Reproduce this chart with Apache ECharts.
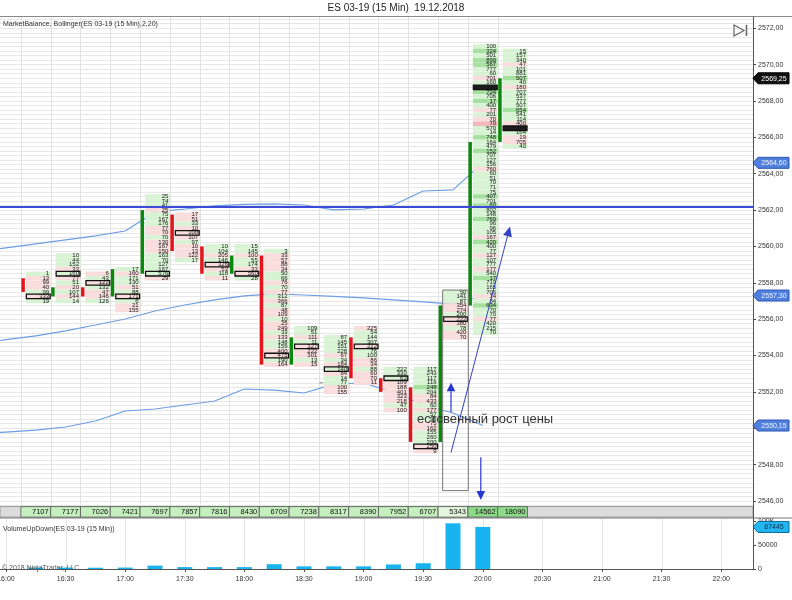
<!DOCTYPE html>
<html>
<head>
<meta charset="utf-8">
<title>ES 03-19 (15 Min) 19.12.2018</title>
<script src="https://cdn.jsdelivr.net/npm/echarts@6/dist/echarts.min.js"></script>
<style>
  html, body { margin: 0; padding: 0; background: #fff; }
  #chart { width: 792px; height: 600px; }
</style>
</head>
<body>
<div id="chart"></div>
<script>
// ---- data ----
const barTimes = ['16:15','16:30','16:45','17:00','17:15','17:30','17:45','18:00','18:15','18:30','18:45','19:00','19:15','19:30','19:45','20:00','20:15'];
const barOpen  = [2558.25, 2557.25, 2557.75, 2557.25, 2558.5, 2561.75, 2560, 2558.5, 2559.5, 2553.5, 2552.5, 2555, 2552.75, 2552.25, 2549.25, 2556.75, 2565.75];
const barClose = [2557.5, 2557.75, 2557.25, 2558.75, 2562, 2559.75, 2558.5, 2559.5, 2553.5, 2555, 2552.5, 2552.75, 2552, 2549.25, 2556.75, 2565.75, 2569.25];
// price of the top footprint row, and the boxed (POC) row
const barHigh  = [2558.5, 2559.5, 2558.5, 2558.75, 2562.75, 2561.75, 2560, 2560, 2559.75, 2555.5, 2555, 2555.5, 2553.25, 2553.25, 2557.5, 2571, 2570.75];
const barPoc   = [2557.25, 2558.5, 2558, 2557.25, 2558.5, 2560.75, 2559, 2558.5, 2554, 2554.5, 2553.25, 2554.5, 2552.75, 2549, 2556, 2568.75, 2566.5];
// footprint volumes, top row first
const barVolumes = [
  [1, 13, 99, 40, 99, 333, 19],
  [10, 44, 152, 33, 160, 77, 51, 20, 107, 144, 14],
  [6, 43, 122, 132, 47, 146, 126],
  [17, 160, 171, 130, 51, 88, 171, 6, 21, 155],
  [25, 74, 41, 25, 75, 167, 176, 77, 70, 70, 130, 167, 150, 163, 70, 127, 167, 576, 29],
  [17, 51, 33, 10, 100, 107, 97, 10, 13, 122, 17],
  [10, 104, 205, 146, 326, 53, 118, 11],
  [15, 145, 100, 55, 174, 33, 560, 28],
  [3, 33, 57, 88, 34, 50, 66, 76, 70, 77, 312, 366, 87, 48, 109, 10, 25, 249, 33, 133, 148, 159, 400, 475, 190, 164],
  [109, 51, 111, 11, 327, 222, 301, 13, 15],
  [87, 145, 151, 228, 67, 34, 184, 140, 84, 14, 77, 100, 155],
  [225, 54, 144, 307, 222, 76, 100, 86, 34, 88, 60, 70, 11],
  [222, 330, 63, 109, 188, 401, 323, 218, 47, 100],
  [117, 243, 117, 116, 248, 204, 84, 433, 60, 177, 57, 96, 75, 162, 155, 260, 200, 250, 9],
  [50, 141, 87, 354, 274, 200, 222, 380, 78, 420, 70],
  [100, 324, 501, 899, 567, 777, 60, 701, 160, 640, 724, 706, 17, 400, 77, 201, 70, 70, 570, 14,
   748, 164, 479, 152, 707, 127, 156, 760, 60, 51, 70, 71, 75, 407, 701, 60, 802, 148, 769, 96,
   96, 105, 167, 420, 400, 77, 127, 107, 777, 177, 540, 17, 719, 165, 706, 14, 84, 634, 70, 70,
   77, 420, 215, 70],
  [15, 157, 340, 47, 101, 881, 507, 40, 180, 707, 537, 777, 507, 654, 541, 114, 400, 222, 164, 19, 705, 40]
];
// cell shading per row: g = buy side, r = sell side, capitals = stronger
const barTones = [
  'grrrgrg', 'gggrgrgrgrg', 'rgrgrrg', 'grggrgrgrr', 'gggrgggrrgrrrgggggr', 'rrgrrrgrrrg',
  'ggrgrrgr', 'ggrggrrg', 'grrrrggrgrgrgrrgrrgrggrrgr', 'ggrgrrrgr', 'ggggrgrgrggrr',
  'rgggrggrrgrrr', 'gggrrrrrgr', 'ggggGgrrgrggrrgggrr', 'gggrrgrrgrr',
  'gGgGGggrggGgGgrgrRggGggGgggrgggggGgGggGgggrGggrggrgGgggrgGggrgg',
  'gggrggGgrggggGggrrgrrg'
];
const barTotals = [7107, 7177, 7026, 7421, 7697, 7857, 7816, 8430, 6709, 7238, 8317, 8390, 7952, 6707, 5343, 14562, 18090];
const volumeUpDown = [3000, 3000, 2700, 3000, 7000, 4000, 4000, 4000, 10000, 5500, 5500, 5500, 9500, 12000, 95000, 87445, 0];

// Bollinger(2,20)
const bandTimes  = ['15:45','16:00','16:15','16:30','16:45','17:00','17:15','17:30','17:45','18:00','18:15','18:30','18:45','19:00','19:15','19:30','19:45','20:00'];
const bandUpper  = [2559.70, 2559.92, 2560.14, 2560.36, 2560.58, 2560.85, 2561.90, 2562.06, 2562.23, 2562.31, 2562.34, 2562.28, 2562.01, 2562.06, 2562.28, 2563.05, 2563.11, 2564.60];
const bandMiddle = [2554.65, 2554.87, 2555.08, 2555.36, 2555.68, 2556.01, 2556.45, 2556.78, 2557.06, 2557.28, 2557.39, 2557.33, 2557.25, 2557.17, 2557.06, 2556.95, 2556.83, 2557.30];
const bandLower  = [2549.68, 2549.79, 2549.90, 2550.07, 2550.40, 2550.95, 2551.06, 2551.28, 2551.50, 2552.16, 2552.10, 2551.94, 2552.43, 2552.49, 2551.99, 2551.28, 2550.84, 2550.15];

const timeLabels  = ['16:00','16:30','17:00','17:30','18:00','18:30','19:00','19:30','20:00','20:30','21:00','21:30','22:00'];
const priceLabels = [2546, 2548, 2550, 2552, 2554, 2556, 2558, 2560, 2562, 2564, 2566, 2568, 2570, 2572];
const volumeLabels = [0, 50000, 100000];
const levelLine = 2562.2;
const lastPrice = 2569.25;

// hand drawings on the chart, as [time, price]
const upArrow    = [['19:44', 2550.9], ['19:44', 2552.5]];
const downArrow  = [['19:59', 2548.4], ['19:59', 2546.05]];
const trendArrow = [['19:44', 2548.66], ['20:13.7', 2561.1]];
const noteBox    = [['19:39.8', 2557.6], ['19:52.7', 2546.57]];
const noteAt     = ['19:26.9', 2550.5];
const noteText   = 'естсвенный рост цены';

// ---- helpers ----
const FONT = '"Liberation Sans", Arial, sans-serif';
const toMin = s => { const [h, m] = s.split(':'); return (+h - 16) * 60 + parseFloat(m); };
const fmtPrice = v => v.toFixed(2).replace('.', ',');
const barMin = barTimes.map(toMin);
const toneColor = { g: '#d8f3d4', G: '#a6e0a0', r: '#f9dcdc', R: '#f0b8b8' };

function renderSlotLines(params, api) {
  const cs = params.coordSys;
  return {
    type: 'group',
    children: barMin.map(t => {
      const x = Math.round(api.coord([t - 7.5, barHigh[0]])[0]) + 0.5;
      return { type: 'line', shape: { x1: x, y1: cs.y - 3, x2: x, y2: cs.y + cs.height },
               style: { stroke: '#e2e2e2', lineWidth: 1 } };
    })
  };
}

function renderTimeLines(params, api) {
  const cs = params.coordSys;
  return {
    type: 'group',
    children: timeLabels.map(s => {
      const x = Math.round(api.coord([toMin(s), 0])[0]) + 0.5;
      return { type: 'line', shape: { x1: x, y1: cs.y, x2: x, y2: cs.y + cs.height },
               style: { stroke: '#e6e6e6', lineWidth: 1 } };
    })
  };
}

function renderFootprint(params, api) {
  const i = api.value(1);
  const t = barMin[i];
  const left = api.coord([t - 7.5, barHigh[i]])[0];
  const right = api.coord([t + 7.5, barHigh[i]])[0];
  const rowH = api.size([0, 0.25])[1];
  const tones = barTones[i];
  const kids = [];
  barVolumes[i].forEach((v, k) => {
    const y = api.coord([t, barHigh[i] - k * 0.25])[1];
    kids.push({ type: 'rect', shape: { x: left + 5, y: y - rowH / 2, width: right - left - 5, height: rowH },
                style: { fill: toneColor[tones[k]] || toneColor.g } });
    kids.push({ type: 'text', style: { text: String(v), x: right - 1.5, y: y, align: 'right', verticalAlign: 'middle',
                fontSize: 6, fontFamily: FONT, fill: '#1a1a1a' } });
  });
  const yp = api.coord([t, barPoc[i]])[1];
  const dark = i >= 15;
  kids.push({ type: 'rect', shape: { x: left + 5.5, y: yp - rowH / 2, width: right - left - 6, height: rowH },
              style: { fill: dark ? '#1c1c1c' : 'rgba(0,0,0,0)', stroke: '#111', lineWidth: 1.3 } });
  const yo = api.coord([t, barOpen[i]])[1];
  const yc = api.coord([t, barClose[i]])[1];
  if (barOpen[i] === barClose[i]) {
    kids.push({ type: 'rect', shape: { x: left + 0.5, y: yo - 0.5, width: 3.5, height: 1 }, style: { fill: '#777' } });
  } else {
    kids.push({ type: 'rect', shape: { x: left + 0.5, y: Math.min(yo, yc), width: 3.5, height: Math.abs(yo - yc) },
                style: { fill: barClose[i] > barOpen[i] ? '#0d870d' : '#e5141b' } });
  }
  return { type: 'group', children: kids };
}

function renderStrip(params, api) {
  const i = api.value(1);
  const t = barMin[i];
  const cs = params.coordSys;
  const bottom = cs.y + cs.height + 2.5;
  const top = bottom - 10.5;
  const left = api.coord([t - 7.5, barHigh[i]])[0];
  const right = api.coord([t + 7.5, barHigh[i]])[0];
  const v = barTotals[i];
  const fill = v > 10000 ? '#8fd98a' : (v < 6000 ? '#e3f7df' : '#c6efbf');
  const kids = [];
  if (i === 0) {
    kids.push({ type: 'rect', z2: -1, shape: { x: cs.x, y: top, width: cs.width, height: bottom - top },
                style: { fill: '#dcdcdc', stroke: '#9a9a9a', lineWidth: 1 } });
  }
  kids.push({ type: 'rect', shape: { x: left, y: top, width: right - left, height: bottom - top },
              style: { fill: fill, stroke: '#555', lineWidth: 0.8 } });
  kids.push({ type: 'text', style: { text: String(v), x: right - 2, y: (top + bottom) / 2 + 0.5, align: 'right',
              verticalAlign: 'middle', fontSize: 7.5, fontFamily: FONT, fill: '#111' } });
  return { type: 'group', children: kids };
}

const bandSeries = (name, vals) => ({
  name, type: 'line', xAxisIndex: 0, yAxisIndex: 0, z: 2,
  data: bandTimes.map((s, k) => [toMin(s), vals[k]]),
  showSymbol: false, symbol: 'none', silent: true,
  lineStyle: { color: '#6d9de2', width: 1.2 }
});

const option = {
  animation: false,
  backgroundColor: '#fff',
  textStyle: { fontFamily: FONT },
  grid: [
    { left: 0, right: 39, top: 19.2, bottom: 85.4, containLabel: false, outerBoundsMode: 'none' },
    { left: 0, right: 39, top: 518.5, bottom: 31, containLabel: false, outerBoundsMode: 'none' }
  ],
  xAxis: [
    { type: 'value', gridIndex: 0, min: -3, max: 376, show: false },
    { type: 'value', gridIndex: 1, min: -3, max: 376,
      axisLine: { show: true, onZero: false, lineStyle: { color: '#555' } },
      axisTick: { show: true, length: 3, customValues: timeLabels.map(toMin), lineStyle: { color: '#555' } },
      axisLabel: { customValues: timeLabels.map(toMin), margin: 7, fontSize: 7, color: '#333', fontFamily: FONT,
        formatter: v => { const h = 16 + Math.floor(v / 60), m = v % 60; return h + ':' + (m < 10 ? '0' : '') + m; } },
      splitLine: { show: false } }
  ],
  yAxis: [
    { type: 'value', gridIndex: 0, position: 'right', min: 2545.25, max: 2572.5, interval: 0.25,
      axisLine: { show: false, onZero: false }, axisTick: { show: false }, axisLabel: { show: false },
      splitLine: { show: true, lineStyle: { color: '#e7e7e7', width: 1 } } },
    { type: 'value', gridIndex: 0, position: 'right', min: 2545.25, max: 2572.5,
      axisLine: { show: false, onZero: false }, splitLine: { show: false },
      axisTick: { show: true, length: 3, customValues: priceLabels, lineStyle: { color: '#444' } },
      axisLabel: { customValues: priceLabels, margin: 5, fontSize: 7, color: '#333', fontFamily: FONT, formatter: fmtPrice } },
    { type: 'value', gridIndex: 1, position: 'right', min: 0, max: 105000,
      axisLine: { show: false, onZero: false }, splitLine: { show: false },
      axisTick: { show: true, length: 3, customValues: volumeLabels, lineStyle: { color: '#444' } },
      axisLabel: { customValues: volumeLabels, margin: 5, fontSize: 7, color: '#333', fontFamily: FONT,
        formatter: v => v >= 100000 ? '100K' : String(v) } }
  ],
  series: [
    { type: 'custom', xAxisIndex: 0, yAxisIndex: 0, z: 1, silent: true, data: [[0, 0]], renderItem: renderSlotLines },
    { type: 'custom', xAxisIndex: 1, yAxisIndex: 2, z: 1, silent: true, data: [[0, 0]], renderItem: renderTimeLines },
    bandSeries('Upper', bandUpper),
    bandSeries('Middle', bandMiddle),
    bandSeries('Lower', bandLower),
    { type: 'custom', xAxisIndex: 0, yAxisIndex: 0, z: 3, silent: true,
      data: barMin.map((t, i) => [t, i]), renderItem: renderFootprint },
    { type: 'custom', xAxisIndex: 0, yAxisIndex: 0, z: 4, silent: true,
      data: barMin.map((t, i) => [t, i]), renderItem: renderStrip },
    { type: 'line', xAxisIndex: 0, yAxisIndex: 0, z: 5, data: [], silent: true,
      markLine: { silent: true, symbol: ['none', 'none'], label: { show: false },
        lineStyle: { color: '#3d4ad8', width: 2, type: 'solid' }, data: [{ yAxis: levelLine }] } },
    { type: 'bar', xAxisIndex: 1, yAxisIndex: 2, z: 3, barWidth: 15, silent: true,
      itemStyle: { color: '#19b3f0' },
      data: barMin.map((t, i) => [t, volumeUpDown[i]]) }
  ]
};

const chart = echarts.init(document.getElementById('chart'));
chart.setOption(option);

// ---- texts, frame, price markers and the hand drawings ----
function px(pt) { return chart.convertToPixel({ xAxisIndex: 0, yAxisIndex: 0 }, [toMin(pt[0]), pt[1]]); }
function arrowHead(tip, tail, len, half, color) {
  const dx = tip[0] - tail[0], dy = tip[1] - tail[1];
  const d = Math.hypot(dx, dy), ux = dx / d, uy = dy / d;
  const bx = tip[0] - ux * len, by = tip[1] - uy * len;
  return { type: 'polygon', z: 100, shape: { points: [tip, [bx - uy * half, by + ux * half], [bx + uy * half, by - ux * half]] },
           style: { fill: color } };
}
function arrow(pts, color, width, len, half) {
  const a = px(pts[0]), b = px(pts[1]);
  const d = Math.hypot(b[0] - a[0], b[1] - a[1]);
  const end = [b[0] - (b[0] - a[0]) / d * len, b[1] - (b[1] - a[1]) / d * len];
  return [
    { type: 'line', z: 100, shape: { x1: a[0], y1: a[1], x2: end[0], y2: end[1] }, style: { stroke: color, lineWidth: width } },
    arrowHead(b, a, len, half, color)
  ];
}
function marker(y, text, fill, stroke, color) {
  return [
    { type: 'polygon', z: 110, shape: { points: [[753, y], [758, y - 5.5], [789, y - 5.5], [789, y + 5.5], [758, y + 5.5]] },
      style: { fill: fill, stroke: stroke, lineWidth: 1 } },
    { type: 'text', z: 111, style: { text: text, x: 774, y: y + 0.5, align: 'center', verticalAlign: 'middle',
      fontSize: 7, fontFamily: FONT, fill: color } }
  ];
}

const yPrice = p => chart.convertToPixel({ yAxisIndex: 0 }, p);
const b1 = px(noteBox[0]), b2 = px(noteBox[1]);
const note = px(noteAt);
const graphics = [
  { type: 'text', z: 100, style: { text: 'ES 03-19 (15 Min)  19.12.2018', x: 396, y: 8, align: 'center', verticalAlign: 'middle',
    fontSize: 10, fontFamily: FONT, fill: '#222' } },
  { type: 'line', z: 100, shape: { x1: 0, y1: 16.5, x2: 792, y2: 16.5 }, style: { stroke: '#8a8a8a', lineWidth: 1 } },
  { type: 'line', z: 100, shape: { x1: 0, y1: 518, x2: 792, y2: 518 }, style: { stroke: '#777', lineWidth: 1 } },
  { type: 'line', z: 100, shape: { x1: 753.5, y1: 16.5, x2: 753.5, y2: 569 }, style: { stroke: '#555', lineWidth: 1 } },
  { type: 'text', z: 100, style: { text: 'MarketBalance, Bollinger(ES 03-19 (15 Min),2,20)', x: 3, y: 24.5, verticalAlign: 'middle',
    fontSize: 7, fontFamily: FONT, fill: '#333' } },
  { type: 'text', z: 100, style: { text: 'VolumeUpDown(ES 03-19 (15 Min))', x: 3, y: 529, verticalAlign: 'middle',
    fontSize: 7, fontFamily: FONT, fill: '#333' } },
  { type: 'text', z: 100, style: { text: '© 2018 NinjaTrader, LLC', x: 2, y: 568, verticalAlign: 'middle',
    fontSize: 7, fontFamily: FONT, fill: '#555' } },
  { type: 'polygon', z: 100, shape: { points: [[734, 25], [744, 30.5], [734, 36]] }, style: { fill: 'none', stroke: '#666', lineWidth: 1.2 } },
  { type: 'line', z: 100, shape: { x1: 746.5, y1: 25, x2: 746.5, y2: 36 }, style: { stroke: '#666', lineWidth: 1.5 } },
  { type: 'rect', z: 100, shape: { x: b1[0], y: b1[1], width: b2[0] - b1[0], height: b2[1] - b1[1] },
    style: { fill: 'none', stroke: '#777', lineWidth: 1 } },
  { type: 'text', z: 101, style: { text: noteText, x: note[0], y: note[1], verticalAlign: 'middle',
    fontSize: 13, fontFamily: FONT, fill: '#333' } }
]
  .concat(arrow(upArrow, '#2437d0', 1.2, 8.5, 4.3))
  .concat(arrow(downArrow, '#2437d0', 1.2, 9, 4.3))
  .concat(arrow(trendArrow, '#3442c4', 1, 10, 4.5))
  .concat(marker(yPrice(lastPrice), fmtPrice(lastPrice), '#111', '#000', '#fff'))
  .concat(marker(yPrice(bandUpper[bandUpper.length - 1]), fmtPrice(bandUpper[bandUpper.length - 1]), '#4f80de', '#2c56b0', '#eef3ff'))
  .concat(marker(yPrice(bandMiddle[bandMiddle.length - 1]), fmtPrice(bandMiddle[bandMiddle.length - 1]), '#4f80de', '#2c56b0', '#eef3ff'))
  .concat(marker(yPrice(bandLower[bandLower.length - 1]), fmtPrice(bandLower[bandLower.length - 1]), '#4f80de', '#2c56b0', '#eef3ff'))
  .concat(marker(chart.convertToPixel({ yAxisIndex: 2 }, volumeUpDown[15]), String(volumeUpDown[15]), '#22b6f0', '#0b6a9a', '#08324d'));

chart.setOption({ graphic: graphics });
</script>
</body>
</html>
